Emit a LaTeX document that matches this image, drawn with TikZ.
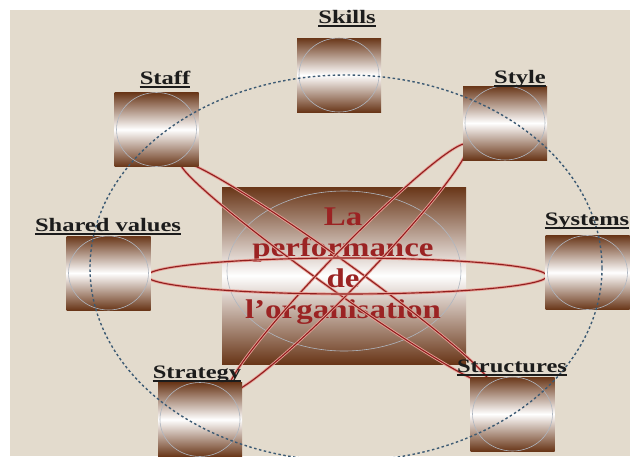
\documentclass[tikz,border=0pt]{standalone}
\usepackage{fontspec}
\setmainfont{Liberation Serif}
\usepackage{graphicx}
\definecolor{bg}{RGB}{227,219,205}
\definecolor{boxbrown}{RGB}{105,54,24}
\definecolor{dashcol}{RGB}{60,90,115}
\definecolor{redl}{RGB}{145,30,30}
\definecolor{redhalo}{RGB}{232,160,150}
\definecolor{txtred}{RGB}{155,35,35}
\definecolor{lblcol}{RGB}{28,28,28}
\definecolor{circcol}{RGB}{175,182,192}
\newcommand{\hstr}[1]{\scalebox{1.22}[1]{#1}}
\newcommand{\lstr}[1]{\scalebox{1.29}[1]{#1}}
\begin{document}
\begin{tikzpicture}[x=1pt,y=-1pt,
  sbox/.style={top color=boxbrown,bottom color=boxbrown,middle color=white,draw=none,
    minimum width=84pt,minimum height=74pt,inner sep=0pt},
  cbox/.style={top color=boxbrown,bottom color=boxbrown,middle color=white,draw=none,
    minimum width=244pt,minimum height=177pt,inner sep=0pt},
  circ/.style={draw=circcol,line width=0.6pt},
  lbl/.style={anchor=base,inner sep=0pt,text=lblcol,font=\fontsize{19}{19}\selectfont\bfseries},
  uline/.style={draw=lblcol,line width=1.8pt},
  redell/.style={draw=redl,line width=1.1pt,preaction={draw=redhalo,line width=2.8pt}},
  dashell/.style={draw=dashcol,line width=1.4pt,dash pattern=on 2.5pt off 2.5pt},
  ctext/.style={align=center,text=txtred,inner sep=0pt,font=\fontsize{27}{31}\selectfont\bfseries}
]
\useasboundingbox (0,0) rectangle (630,456);
\fill[bg] (10,10) rectangle (630,456);

% centre box
\node[cbox] (centre) at (344,275.5) {};
\draw[circ] (344,271) ellipse [x radius=117, y radius=80];
\node[ctext] (ctitle) at (343,266) {\hstr{La}\\\hstr{performance}\\\hstr{de}\\\hstr{l'organisation}};

% red ellipses
\coordinate (e1) at (335,273);
\coordinate (e2) at (348,268);
\coordinate (e3) at (347,276);
\draw[redell, rotate around={-35.6:(e1)}] (e1) ellipse [x radius=190, y radius=15];
\draw[redell, rotate around={46:(e2)}] (e2) ellipse [x radius=172, y radius=18];
\draw[redell] (e3) ellipse [x radius=200, y radius=18];

% small boxes
\node[sbox] (skills) at (339,75) {};
\node[sbox] (staff) at (156.5,129.5) {};
\node[sbox] (style) at (505,123) {};
\node[sbox] (shared) at (108.5,273) {};
\node[sbox] (systems) at (587.5,272.5) {};
\node[sbox] (strategy) at (200,419.5) {};
\node[sbox] (structures) at (512.5,414) {};
\foreach \n in {skills,staff,style,shared,systems,strategy,structures}
  \draw[circ] (\n.center) ellipse [x radius=40, y radius=37];

% dashed ellipse
\coordinate (de) at (346,268);
\draw[dashell] (de) ellipse [x radius=256, y radius=193];

% labels
\node[lbl] (lskills) at (347,23) {\lstr{Skills}};
\node[lbl] (lstaff) at (165,84) {\lstr{Staff}};
\node[lbl] (lstyle) at (520,83) {\lstr{Style}};
\node[lbl] (lshared) at (108,231) {\lstr{Shared values}};
\node[lbl] (lsystems) at (587,225) {\lstr{Systems}};
\node[lbl] (lstrategy) at (197,378) {\lstr{Strategy}};
\node[lbl] (lstructures) at (512,372) {\lstr{Structures}};
\foreach \n in {lskills,lstaff,lstyle,lshared,lsystems,lstrategy,lstructures}
  \draw[uline] ([yshift=-3pt]\n.base west) -- ([yshift=-3pt]\n.base east);
\end{tikzpicture}
\end{document}
